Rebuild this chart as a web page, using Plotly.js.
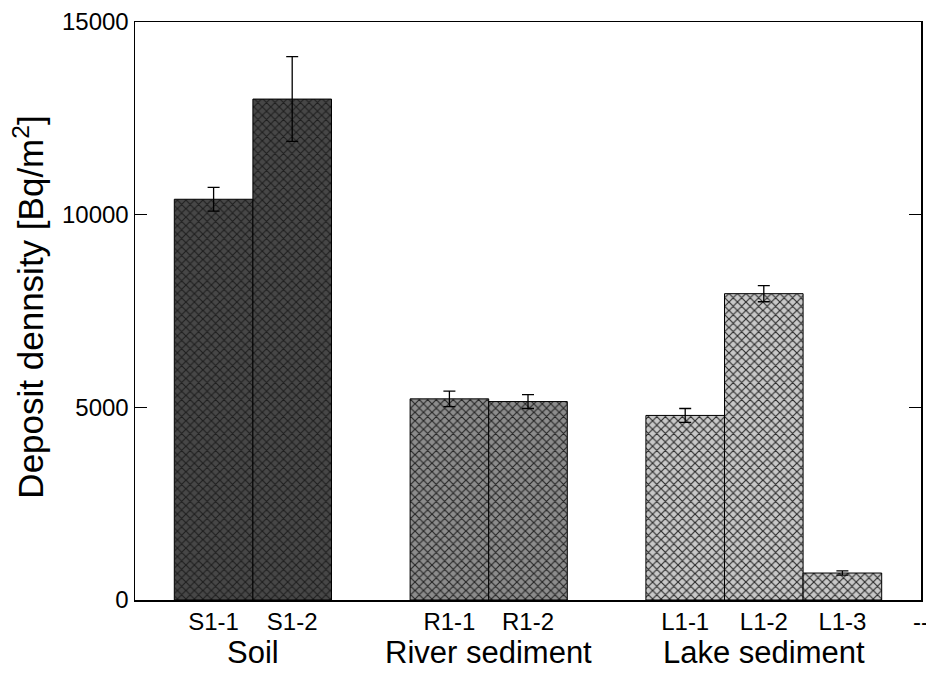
<!DOCTYPE html>
<html>
<head>
<meta charset="utf-8">
<script src="https://cdn.plot.ly/plotly-3.0.1.min.js"></script>
<style>
  html, body { margin: 0; padding: 0; background: #ffffff; }
  #chart { width: 926px; height: 675px; }
</style>
</head>
<body>
<div id="chart"></div>
<script>
// Deposit density per sampling site, grouped by medium
const groups = ["Soil", "River sediment", "Lake sediment"];
const samples = [["S1-1", "S1-2"], ["R1-1", "R1-2"], ["L1-1", "L1-2", "L1-3"]];
const values = [[10400, 13000], [5220, 5150], [4790, 7950, 700]];
const errors = [[310, 1100], [200, 180], [180, 210, 55]];
const trailingTick = "--";
const yTicks = [0, 5000, 10000, 15000];

// Hatch background per group (dark -> light)
const fills = ["#474747", "#8c8c8c", "#c8c8c8"];
const FONT = "Arial, 'Liberation Sans', sans-serif";

// Lay the samples out on consecutive slots, one empty slot between groups
const traces = [];
const tickvals = [];
const ticktext = [];
const groupCenters = [];
let slot = 0;
groups.forEach((g, gi) => {
  const xs = samples[gi].map((_, i) => slot + i);
  xs.forEach((x, i) => { tickvals.push(x); ticktext.push(samples[gi][i]); });
  groupCenters.push((xs[0] + xs[xs.length - 1]) / 2);
  traces.push({
    type: "bar",
    name: g,
    x: xs,
    y: values[gi],
    width: 1,
    marker: {
      color: fills[gi],
      line: { color: "#000000", width: 1 },
      pattern: {
        shape: "x",
        fillmode: "overlay",
        bgcolor: fills[gi],
        fgcolor: "#1a1a1a",
        fgopacity: 0.9,
        size: 6,
        solidity: 0.35
      }
    },
    error_y: {
      type: "data",
      array: errors[gi],
      visible: true,
      color: "#000000",
      thickness: 1.3,
      width: 6
    },
    hoverinfo: "x+y"
  });
  slot += xs.length + 1;
});
// closing tick after the last group
const lastSlot = slot - 1;
tickvals.push(lastSlot);
ticktext.push(trailingTick);

const annotations = groups.map((g, gi) => ({
  text: g,
  x: groupCenters[gi],
  xref: "x",
  y: -0.09,
  yref: "paper",
  xanchor: "center",
  yanchor: "middle",
  showarrow: false,
  font: { family: FONT, size: 31, color: "#000000" }
}));
annotations.push({
  text: "Deposit dennsity [Bq/m<sup>2</sup>]",
  x: -0.136,
  xref: "paper",
  y: 0.506,
  yref: "paper",
  xanchor: "center",
  yanchor: "middle",
  textangle: -90,
  showarrow: false,
  font: { family: FONT, size: 35, color: "#000000" }
});

const layout = {
  width: 926,
  height: 675,
  margin: { l: 135, r: 5, t: 22, b: 75 },
  paper_bgcolor: "#ffffff",
  plot_bgcolor: "#ffffff",
  showlegend: false,
  barmode: "overlay",
  font: { family: FONT, color: "#000000" },
  xaxis: {
    range: [-1, lastSlot],
    tickmode: "array",
    tickvals: tickvals,
    ticktext: ticktext,
    ticks: "",
    ticklabeloverflow: "allow",
    showgrid: false,
    zeroline: false,
    showline: true,
    mirror: true,
    linecolor: "#000000",
    linewidth: 1.5,
    tickfont: { family: FONT, size: 24, color: "#000000" }
  },
  yaxis: {
    range: [0, 15000],
    tickmode: "array",
    tickvals: yTicks,
    tickformat: "d",
    ticks: "inside",
    ticklen: 12,
    tickwidth: 1.5,
    tickcolor: "#000000",
    showgrid: false,
    zeroline: false,
    showline: true,
    mirror: "ticks",
    linecolor: "#000000",
    linewidth: 1.5,
    tickfont: { family: FONT, size: 24, color: "#000000" }
  },
  annotations: annotations
};

Plotly.newPlot("chart", traces, layout, { displayModeBar: false, staticPlot: true });
</script>
</body>
</html>
